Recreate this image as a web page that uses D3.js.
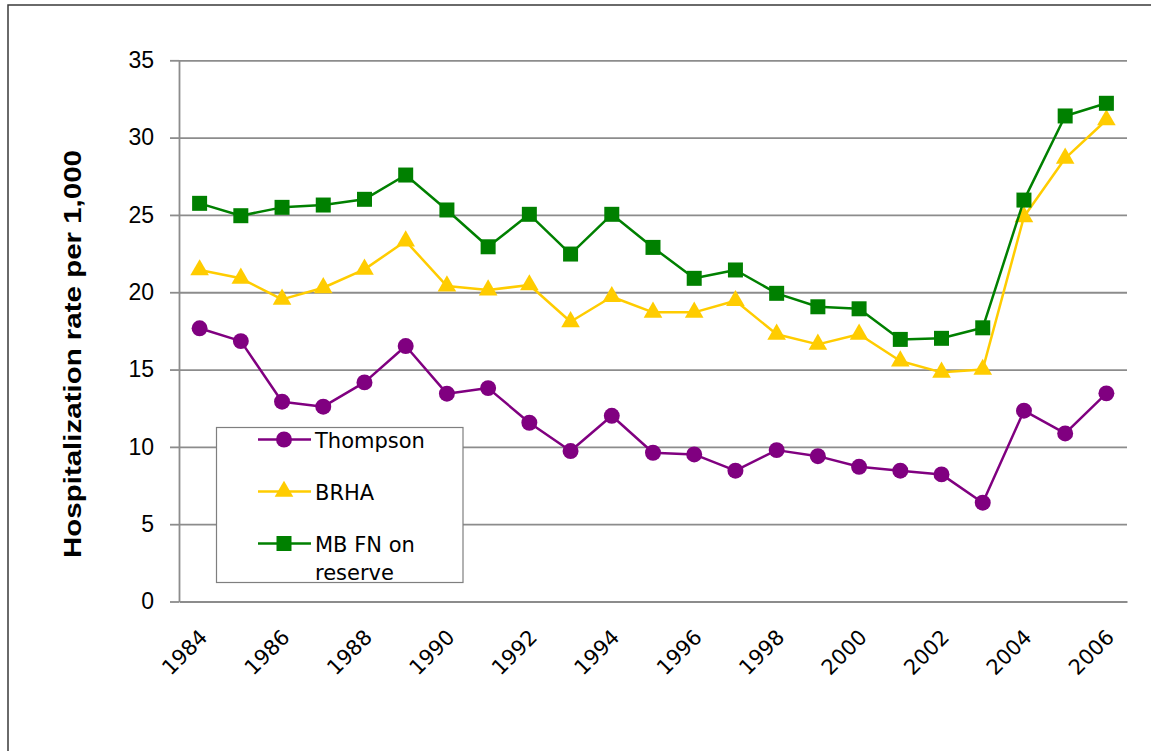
<!DOCTYPE html>
<html>
<head>
<meta charset="utf-8">
<script src="https://cdn.jsdelivr.net/npm/d3@7"></script>
<style>
  html, body { margin: 0; padding: 0; background: #fff; }
  svg { display: block; }
</style>
</head>
<body>
<svg id="chart" width="1151" height="751"></svg>
<script>
// Hospitalization rate per 1,000, by year
const years = d3.range(1984, 2007);
const yTicks = [0, 5, 10, 15, 20, 25, 30, 35];
const xTickLabels = years.filter(y => y % 2 === 0);

const thompson = [17.67, 16.84, 12.92, 12.60, 14.17, 16.52, 13.44, 13.80, 11.56, 9.73, 12.01, 9.62,
                  9.51, 8.46, 9.79, 9.40, 8.71, 8.46, 8.22, 6.39, 12.34, 10.87, 13.46];
const brha = [21.44, 20.90, 19.54, 20.29, 21.48, 23.31, 20.40, 20.14, 20.47, 18.09, 19.71, 18.70,
              18.70, 19.45, 17.28, 16.63, 17.28, 15.55, 14.82, 15.01, 24.88, 28.66, 31.14];
const mbfn = [25.75, 24.95, 25.49, 25.64, 26.01, 27.58, 25.32, 22.94, 25.04, 22.47, 25.04, 22.90,
              20.90, 21.44, 19.93, 19.06, 18.93, 16.95, 17.02, 17.70, 25.96, 31.40, 32.22];

const seriesNames = ["Thompson", "BRHA", "MB FN on reserve"];
const seriesColors = ["#800080", "#FFCC00", "#008000"];
const seriesShapes = [d3.symbolCircle, d3.symbolTriangle, d3.symbolSquare];
const seriesValues = [thompson, brha, mbfn];

const series = seriesNames.map((name, i) => ({
  name, color: seriesColors[i], shape: seriesShapes[i], values: seriesValues[i]
}));

const svg = d3.select("#chart");

// outer frame
svg.append("rect")
  .attr("x", 8).attr("y", 5).attr("width", 1170).attr("height", 780)
  .attr("fill", "none").attr("stroke", "#3a3a3a").attr("stroke-width", 1.5);

const plot = { left: 179, right: 1127, top: 60.3, bottom: 601.5 };

const x = d3.scaleBand().domain(years).range([plot.left, plot.right]).padding(0);
const y = d3.scaleLinear().domain([0, 35]).range([plot.bottom, plot.top]);
const cx = d => x(d) + x.bandwidth() / 2;

// horizontal gridlines
svg.append("g")
  .attr("transform", `translate(${plot.left},0)`)
  .call(d3.axisRight(y).tickValues(yTicks.filter(t => t > 0)).tickSize(plot.right - plot.left).tickFormat(""))
  .call(g => g.select(".domain").remove())
  .call(g => g.selectAll("line").attr("stroke", "#8c8c8c").attr("stroke-width", 1.8));

// y axis
svg.append("g")
  .attr("transform", `translate(${plot.left},0)`)
  .call(d3.axisLeft(y).tickValues(yTicks).tickSize(9).tickPadding(16).tickSizeOuter(0))
  .call(g => g.select(".domain").attr("stroke", "#8c8c8c").attr("stroke-width", 1.8))
  .call(g => g.selectAll("line").attr("stroke", "#8c8c8c").attr("stroke-width", 1.8))
  .call(g => g.selectAll("text")
    .attr("font-family", "'Liberation Sans', Arial, sans-serif")
    .attr("font-size", 23).attr("fill", "#000"));

// x axis (tick groups are already centred on each band)
svg.append("g")
  .attr("transform", `translate(0,${plot.bottom})`)
  .call(d3.axisBottom(x).tickValues(xTickLabels).tickSize(0).tickSizeOuter(0).tickPadding(0))
  .call(g => g.select(".domain").attr("stroke", "#8c8c8c").attr("stroke-width", 1.8))
  .call(g => g.selectAll(".tick text")
    .attr("font-family", "'DejaVu Sans', Tahoma, sans-serif")
    .attr("font-size", 21).attr("fill", "#000")
    .attr("text-anchor", "end")
    .attr("dy", 0)
    .attr("transform", "translate(9,37) rotate(-45)")
    .attr("y", 0).attr("x", 0));

// y axis title
svg.append("text")
  .attr("transform", "translate(81,354) rotate(-90)")
  .attr("text-anchor", "middle")
  .attr("font-family", "'Liberation Sans', Arial, sans-serif")
  .attr("font-weight", "bold")
  .attr("font-size", 23)
  .attr("textLength", 408)
  .attr("lengthAdjust", "spacingAndGlyphs")
  .text("Hospitalization rate per 1,000");

function symbolPath(shape) {
  if (shape === d3.symbolCircle) return d3.symbol(shape, 200)();
  if (shape === d3.symbolTriangle) return d3.symbol(shape, 150)();
  return d3.symbol(shape, 225)();
}

const line = d3.line().x((d, i) => cx(years[i])).y(d => y(d));

series.forEach(s => {
  const g = svg.append("g");
  g.append("path")
    .datum(s.values)
    .attr("fill", "none")
    .attr("stroke", s.color)
    .attr("stroke-width", 2.5)
    .attr("stroke-linejoin", "round")
    .attr("d", line);
  g.selectAll("path.mark")
    .data(s.values)
    .join("path")
    .attr("class", "mark")
    .attr("transform", (d, i) => `translate(${cx(years[i])},${y(d)})`)
    .attr("d", symbolPath(s.shape))
    .attr("fill", s.color);
});

// legend
const legend = svg.append("g");
legend.append("rect")
  .attr("x", 216.5).attr("y", 427.5).attr("width", 246.5).attr("height", 155)
  .attr("fill", "#fff").attr("stroke", "#7f7f7f").attr("stroke-width", 1.2);

const rowY = [439.5, 491.5, 543.5];
series.forEach((s, i) => {
  const row = legend.append("g").attr("transform", `translate(0,${rowY[i]})`);
  row.append("line")
    .attr("x1", 258).attr("x2", 311).attr("y1", 0).attr("y2", 0)
    .attr("stroke", s.color).attr("stroke-width", 2.5);
  row.append("path")
    .attr("transform", "translate(284,0)")
    .attr("d", symbolPath(s.shape))
    .attr("fill", s.color);
  const words = i === 2 ? ["MB FN on", "reserve"] : [s.name];
  const t = row.append("text")
    .attr("x", 315).attr("y", 8)
    .attr("font-family", "'DejaVu Sans', Tahoma, sans-serif")
    .attr("font-size", 21).attr("fill", "#000");
  words.forEach((w, k) => {
    t.append("tspan").attr("x", 315).attr("dy", k === 0 ? 0 : 28.5).text(w);
  });
});
</script>
</body>
</html>
